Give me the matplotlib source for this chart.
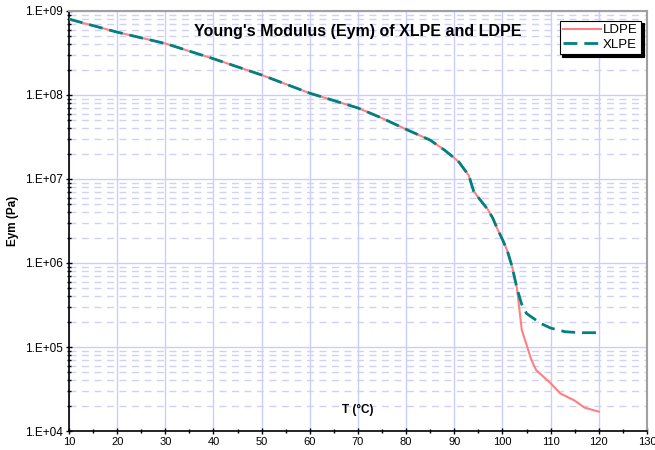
import matplotlib.pyplot as plt
from matplotlib.ticker import FixedLocator, LogLocator, NullFormatter

plt.rcParams['font.family'] = ['Liberation Sans', 'DejaVu Sans']

# shared part of both curves
temp_common = [10, 20, 30, 40, 50, 60, 70, 75, 80, 85, 88, 90, 91, 93, 94, 95, 97, 98, 99, 100, 101, 102, 103]
eym_common = [8.0e8, 5.6e8, 4.1e8, 2.7e8, 1.73e8, 1.05e8, 7.0e7, 5.3e7, 3.9e7, 2.9e7, 2.2e7, 1.78e7,
              1.58e7, 1.1e7, 7.2e6, 6.0e6, 4.3e6, 3.4e6, 2.5e6, 1.9e6, 1.4e6, 9.0e5, 5.0e5]

# branches after melting
temp_ldpe = [104, 106, 107, 110, 112, 115, 117, 120]
eym_ldpe = [1.6e5, 7.0e4, 5.3e4, 3.7e4, 2.8e4, 2.3e4, 1.9e4, 1.7e4]
temp_xlpe = [104, 105, 108, 110, 113, 116, 120]
eym_xlpe = [3.2e5, 2.5e5, 1.9e5, 1.68e5, 1.52e5, 1.48e5, 1.48e5]

x_ldpe = temp_common + temp_ldpe
y_ldpe = eym_common + eym_ldpe
x_xlpe = temp_common + temp_xlpe
y_xlpe = eym_common + eym_xlpe

fig = plt.figure(figsize=(6.55, 4.5), dpi=100)
ax = fig.add_axes([0.1053, 0.0422, 0.8825, 0.9334])

ax.plot(x_ldpe, y_ldpe, color='#FF8080', lw=1.5, label='LDPE', zorder=3)
ax.plot(x_xlpe, y_xlpe, color='#008080', lw=2, ls=(0, (5, 2.5)), label='XLPE', zorder=4)

ax.set_yscale('log')
ax.set_xlim(10, 130)
ax.set_ylim(1e4, 1e9)
ax.set_xticks(range(10, 131, 10))
ax.xaxis.set_minor_locator(FixedLocator(range(15, 130, 10)))
ax.yaxis.set_minor_locator(LogLocator(base=10, subs=range(2, 10), numticks=20))
ax.yaxis.set_minor_formatter(NullFormatter())
ax.set_yticks([1e4, 1e5, 1e6, 1e7, 1e8, 1e9])
ax.set_yticklabels(['1.E+04', '1.E+05', '1.E+06', '1.E+07', '1.E+08', '1.E+09'])

ax.grid(True, which='major', color='#CCCCFF', lw=1, ls='-', zorder=0)
ax.grid(True, which='minor', axis='y', color='#D0D0F8', lw=1, ls=(0, (5, 4)), zorder=0)
ax.set_axisbelow(True)

ax.tick_params(axis='both', which='major', labelsize=8.5, direction='inout', length=5, width=1)
ax.tick_params(axis='x', which='major', labelsize=8)
ax.tick_params(axis='both', which='minor', direction='inout', length=3, width=1)
ax.tick_params(axis='y', pad=2)
ax.tick_params(axis='x', pad=2)

for side in ['left', 'bottom']:
    ax.spines[side].set_color('black')
    ax.spines[side].set_linewidth(1.2)
for side in ['top', 'right']:
    ax.spines[side].set_color('#A0A0A0')
    ax.spines[side].set_linewidth(1.5)

ax.set_ylabel('Eym (Pa)', fontsize=8.5, fontweight='bold', labelpad=4)
ax.text(0.5, 0.05, 'T (°C)', transform=ax.transAxes, ha='center', va='center',
        fontsize=8.5, fontweight='bold')
ax.text(0.5, 0.952, "Young's Modulus (Eym) of XLPE and LDPE", transform=ax.transAxes,
        ha='center', va='center', fontsize=11.5, fontweight='bold')

leg = ax.legend(loc='upper right', bbox_to_anchor=(0.99, 0.977), fontsize=9.5, frameon=True,
                fancybox=False, shadow={'color': 'black', 'alpha': 1}, edgecolor='black',
                handlelength=2.9, handletextpad=0.15, borderpad=0.25, labelspacing=0.2,
                borderaxespad=0)
leg.get_frame().set_linewidth(0.8)

fig.savefig('out.png', dpi=100)
